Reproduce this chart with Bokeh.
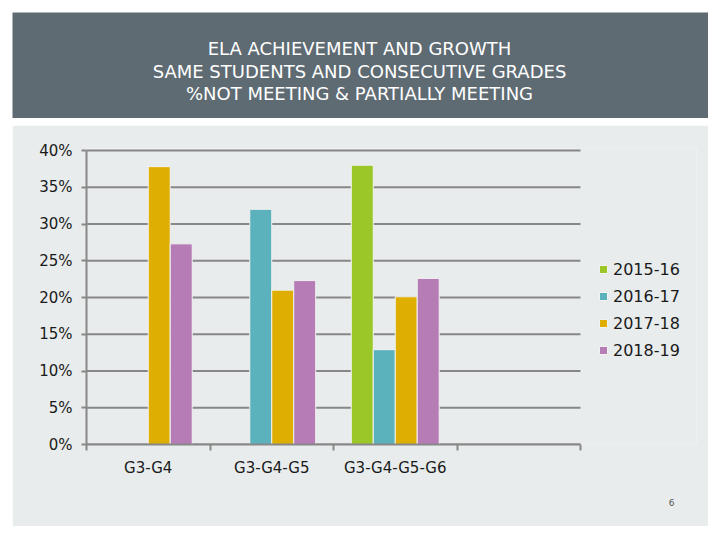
import math
from bokeh.plotting import figure
from bokeh.models import (Range1d, FixedTicker, NumeralTickFormatter, Legend, LegendItem,
                          ColumnDataSource, Title)
from bokeh.core.properties import value
from bokeh.embed import file_html
from bokeh.resources import INLINE

nan = float("nan")

# ---- data ----
title_lines = ["ELA ACHIEVEMENT AND GROWTH",
               "SAME STUDENTS AND CONSECUTIVE GRADES",
               "%NOT MEETING & PARTIALLY MEETING"]
categories = ["G3-G4", "G3-G4-G5", "G3-G4-G5-G6", ""]
years = ["2015-16", "2016-17", "2017-18", "2018-19"]
v_2015_16 = [nan, nan, 0.380, nan]
v_2016_17 = [nan, 0.320, 0.129, nan]
v_2017_18 = [0.378, 0.210, 0.201, nan]
v_2018_19 = [0.273, 0.223, 0.226, nan]
y_ticks = [0.0, 0.05, 0.10, 0.15, 0.20, 0.25, 0.30, 0.35, 0.40]
page_number = "6"

series = [v_2015_16, v_2016_17, v_2017_18, v_2018_19]
colors = ["#9BC728", "#5BB1BC", "#DEAE00", "#B57CB6"]

FONT = "DejaVu Sans"
BANNER = "#5E6B73"
BG = "#E8ECEC"
GRAY = "#878787"
TXT = "#1a1a1a"

# ---- banner ----
BW, BH = 696, 106
b = figure(width=BW, height=BH, x_range=Range1d(0, BW), y_range=Range1d(0, BH),
           x_axis_type=None, y_axis_type=None, toolbar_location=None, output_backend="svg",
           min_border=0, background_fill_color=BANNER, border_fill_color=BANNER,
           outline_line_color=None, margin=(12, 0, 0, 12))
b.text(x=[347, 347, 347], y=[70.5, 47.5, 25], text=title_lines,
       text_font=value(FONT), text_font_size="18px", text_color="white",
       text_align="center", text_baseline="middle")

# ---- chart ----
ncat = len(categories)
YMAX = 0.4
PLOT_W = 494          # pixel width of the category area
FRAME_W = 610         # frame also hosts the legend on the right
FRAME_H = 296
YTOP = YMAX * FRAME_H / 294.0
p = figure(width=696, height=401,
           x_range=Range1d(0, ncat * FRAME_W / PLOT_W), y_range=Range1d(0, YTOP),
           toolbar_location=None, output_backend="svg",
           min_border_left=74, min_border_right=696 - 74 - FRAME_W,
           min_border_top=23, min_border_bottom=401 - 23 - FRAME_H,
           background_fill_color=BG, border_fill_color=BG, outline_line_color=None,
           margin=(7, 0, 0, 12))

# horizontal grid lines across the category area only
p.segment(x0=[0] * len(y_ticks), x1=[ncat] * len(y_ticks), y0=y_ticks, y1=y_ticks,
          line_color=GRAY, line_width=2, level="underlay")

step = 0.178
items = []
for j, (yr, vals, col) in enumerate(zip(years, series, colors)):
    xs, tops = [], []
    for i, v in enumerate(vals):
        if not math.isnan(v):
            xs.append(i + 0.5 + (j - 1.5) * step)
            tops.append(v)
    src = ColumnDataSource(dict(x=xs, top=tops))
    r = p.vbar(x="x", top="top", bottom=0, width=step, source=src,
               fill_color=col, line_color="#f2f2f2", line_width=1)
    items.append(LegendItem(label=yr, renderers=[r]))

p.xgrid.visible = False
p.ygrid.visible = False

p.yaxis.ticker = FixedTicker(ticks=y_ticks)
p.yaxis.bounds = (0, YMAX)
p.yaxis.formatter = NumeralTickFormatter(format="0%")
p.yaxis.axis_line_color = GRAY
p.yaxis.axis_line_width = 2
p.yaxis.major_tick_line_color = GRAY
p.yaxis.major_tick_line_width = 2
p.yaxis.major_tick_in = 0
p.yaxis.major_tick_out = 5
p.yaxis.minor_tick_line_color = None
p.yaxis.major_label_standoff = 9
p.yaxis.major_label_text_font = FONT
p.yaxis.major_label_text_font_size = "15px"
p.yaxis.major_label_text_color = TXT

centers = [i + 0.5 for i in range(ncat)]
bounds = [float(i) for i in range(ncat + 1)]
p.xaxis.ticker = FixedTicker(ticks=centers, minor_ticks=bounds)
p.xaxis.bounds = (0, ncat)
p.xaxis.major_label_overrides = {c: lab for c, lab in zip(centers, categories)}
p.xaxis.axis_line_color = GRAY
p.xaxis.axis_line_width = 2
p.xaxis.major_tick_line_color = None
p.xaxis.major_tick_out = 0
p.xaxis.major_tick_in = 0
p.xaxis.minor_tick_line_color = GRAY
p.xaxis.minor_tick_line_width = 2
p.xaxis.minor_tick_in = 0
p.xaxis.minor_tick_out = 6
p.xaxis.major_label_standoff = 8
p.xaxis.major_label_text_font = FONT
p.xaxis.major_label_text_font_size = "15px"
p.xaxis.major_label_text_color = TXT

legend = Legend(items=items, location=(512, 84), glyph_width=10, glyph_height=10,
                label_standoff=5, spacing=7, label_height=20, padding=0, margin=0,
                border_line_color=None, background_fill_alpha=0,
                label_text_font=FONT, label_text_font_size="16px", label_text_color=TXT)
p.add_layout(legend, "center")

p.add_layout(Title(text=page_number, align="right", offset=22, standoff=34,
                   text_font=FONT, text_font_size="9px", text_font_style="normal",
                   text_color="#555555"), "below")

open("out.html", "w").write(file_html([b, p], INLINE))
